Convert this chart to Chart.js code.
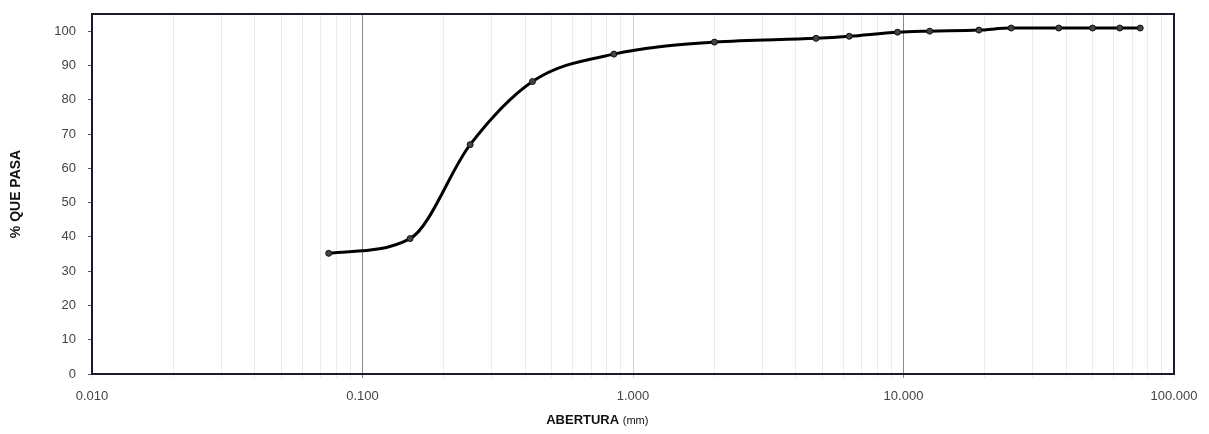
<!DOCTYPE html>
<html>
<head>
<meta charset="utf-8">
<script src="https://cdn.jsdelivr.net/npm/chart.js@4.4.0/dist/chart.umd.min.js"></script>
<style>
    html, body { margin: 0; padding: 0; background: #fff; }
    #wrap { position: relative; width: 1209px; height: 434px; }
</style>
</head>
<body>
<div id="wrap"><canvas id="curva" width="1209" height="434"></canvas></div>
<script>
// Abertura de tamices (mm) y % que pasa
const aberturas = [0.075, 0.15, 0.25, 0.425, 0.85, 2.0, 4.75, 6.3, 9.5, 12.5, 19, 25, 37.5, 50, 63, 75];
const porcentajePasa = [35.2, 39.5, 66.9, 85.3, 93.3, 96.8, 97.9, 98.5, 99.7, 100.0, 100.3, 100.9, 100.9, 100.9, 100.9, 100.9];
const yTicks = [0, 10, 20, 30, 40, 50, 60, 70, 80, 90, 100];
const xDecadas = [0.01, 0.1, 1, 10, 100];

// log ticks: every 1..9 x 10^n between 0.01 and 100
const xTicks = [];
for (let e = -2; e < 2; e++) {
    for (let m = 1; m < 10; m++) xTicks.push(+(m * Math.pow(10, e)).toPrecision(3));
}
xTicks.push(100);

const isDecada = v => xDecadas.some(d => Math.abs(v - d) < d * 1e-6);

// frame around the plot area + x title with mixed fonts
const marco = {
    id: 'marco',
    afterDatasetsDraw(chart) {
        const a = chart.chartArea;
        const ctx = chart.ctx;
        ctx.save();
        ctx.strokeStyle = '#1b1b2e';
        ctx.lineWidth = 2;
        ctx.strokeRect(a.left, a.top, a.right - a.left, a.bottom - a.top);

        // "ABERTURA (mm)"
        const bold = 'bold 13px "Liberation Sans"';
        const reg = '11px "Liberation Sans"';
        ctx.font = bold;
        const w1 = ctx.measureText('ABERTURA ').width;
        ctx.font = reg;
        const w2 = ctx.measureText('(mm)').width;
        const cx = a.left + (a.right - a.left) * 0.467;
        let x0 = cx - (w1 + w2) / 2;
        ctx.fillStyle = '#111';
        ctx.textBaseline = 'middle';
        ctx.textAlign = 'left';
        ctx.font = bold;
        ctx.fillText('ABERTURA ', x0, chart.height - 14);
        ctx.font = reg;
        ctx.fillText('(mm)', x0 + w1, chart.height - 13);
        ctx.restore();
    }
};

const ctx = document.getElementById('curva').getContext('2d');
new Chart(ctx, {
    type: 'line',
    data: {
        datasets: [{
            data: aberturas.map((x, i) => ({ x: x, y: porcentajePasa[i] })),
            borderColor: '#000',
            borderWidth: 3,
            cubicInterpolationMode: 'monotone',
            pointRadius: 3,
            pointBackgroundColor: '#444',
            pointBorderColor: '#111',
            pointBorderWidth: 1
        }]
    },
    options: {
        responsive: false,
        animation: false,
        devicePixelRatio: 1,
        layout: { padding: { top: 14, right: 35, left: 0, bottom: 0 } },
        plugins: { legend: { display: false }, tooltip: { enabled: false } },
        scales: {
            x: {
                type: 'logarithmic',
                min: 0.01,
                max: 100,
                afterBuildTicks: s => { s.ticks = xTicks.map(v => ({ value: v })); },
                afterFit: s => { s.height = 60; s.paddingLeft = 0; s.paddingRight = 0; },
                ticks: {
                    autoSkip: false,
                    maxRotation: 0,
                    padding: 11,
                    color: '#444',
                    font: { family: 'Liberation Sans', size: 13 },
                    callback: v => isDecada(v) ? v.toFixed(3) : ''
                },
                grid: {
                    color: c => {
                        const v = c.tick ? c.tick.value : 0;
                        if (Math.abs(v - 0.1) < 1e-6 || Math.abs(v - 10) < 1e-6) return '#8a8a8a';
                        if (Math.abs(v - 1) < 1e-6) return '#cfcfcf';
                        return '#ececec';
                    },
                    lineWidth: 1,
                    tickLength: 4,
                    drawTicks: true
                },
                border: { color: '#1b1b2e', width: 2 },
                title: { display: false }
            },
            y: {
                min: 0,
                max: 105,
                afterBuildTicks: s => { s.ticks = yTicks.map(v => ({ value: v })); },
                afterFit: s => { s.width = 92; s.paddingTop = 0; s.paddingBottom = 0; },
                ticks: {
                    autoSkip: false,
                    padding: 12,
                    color: '#444',
                    font: { family: 'Liberation Sans', size: 13 }
                },
                grid: {
                    drawOnChartArea: false,
                    tickLength: 4,
                    color: '#555'
                },
                border: { color: '#1b1b2e', width: 2 },
                title: {
                    display: true,
                    text: '% QUE PASA',
                    color: '#111',
                    font: { family: 'Liberation Sans', size: 14, weight: 'bold' },
                    padding: { top: 8, bottom: 0 }
                }
            }
        }
    },
    plugins: [marco]
});
</script>
</body>
</html>
